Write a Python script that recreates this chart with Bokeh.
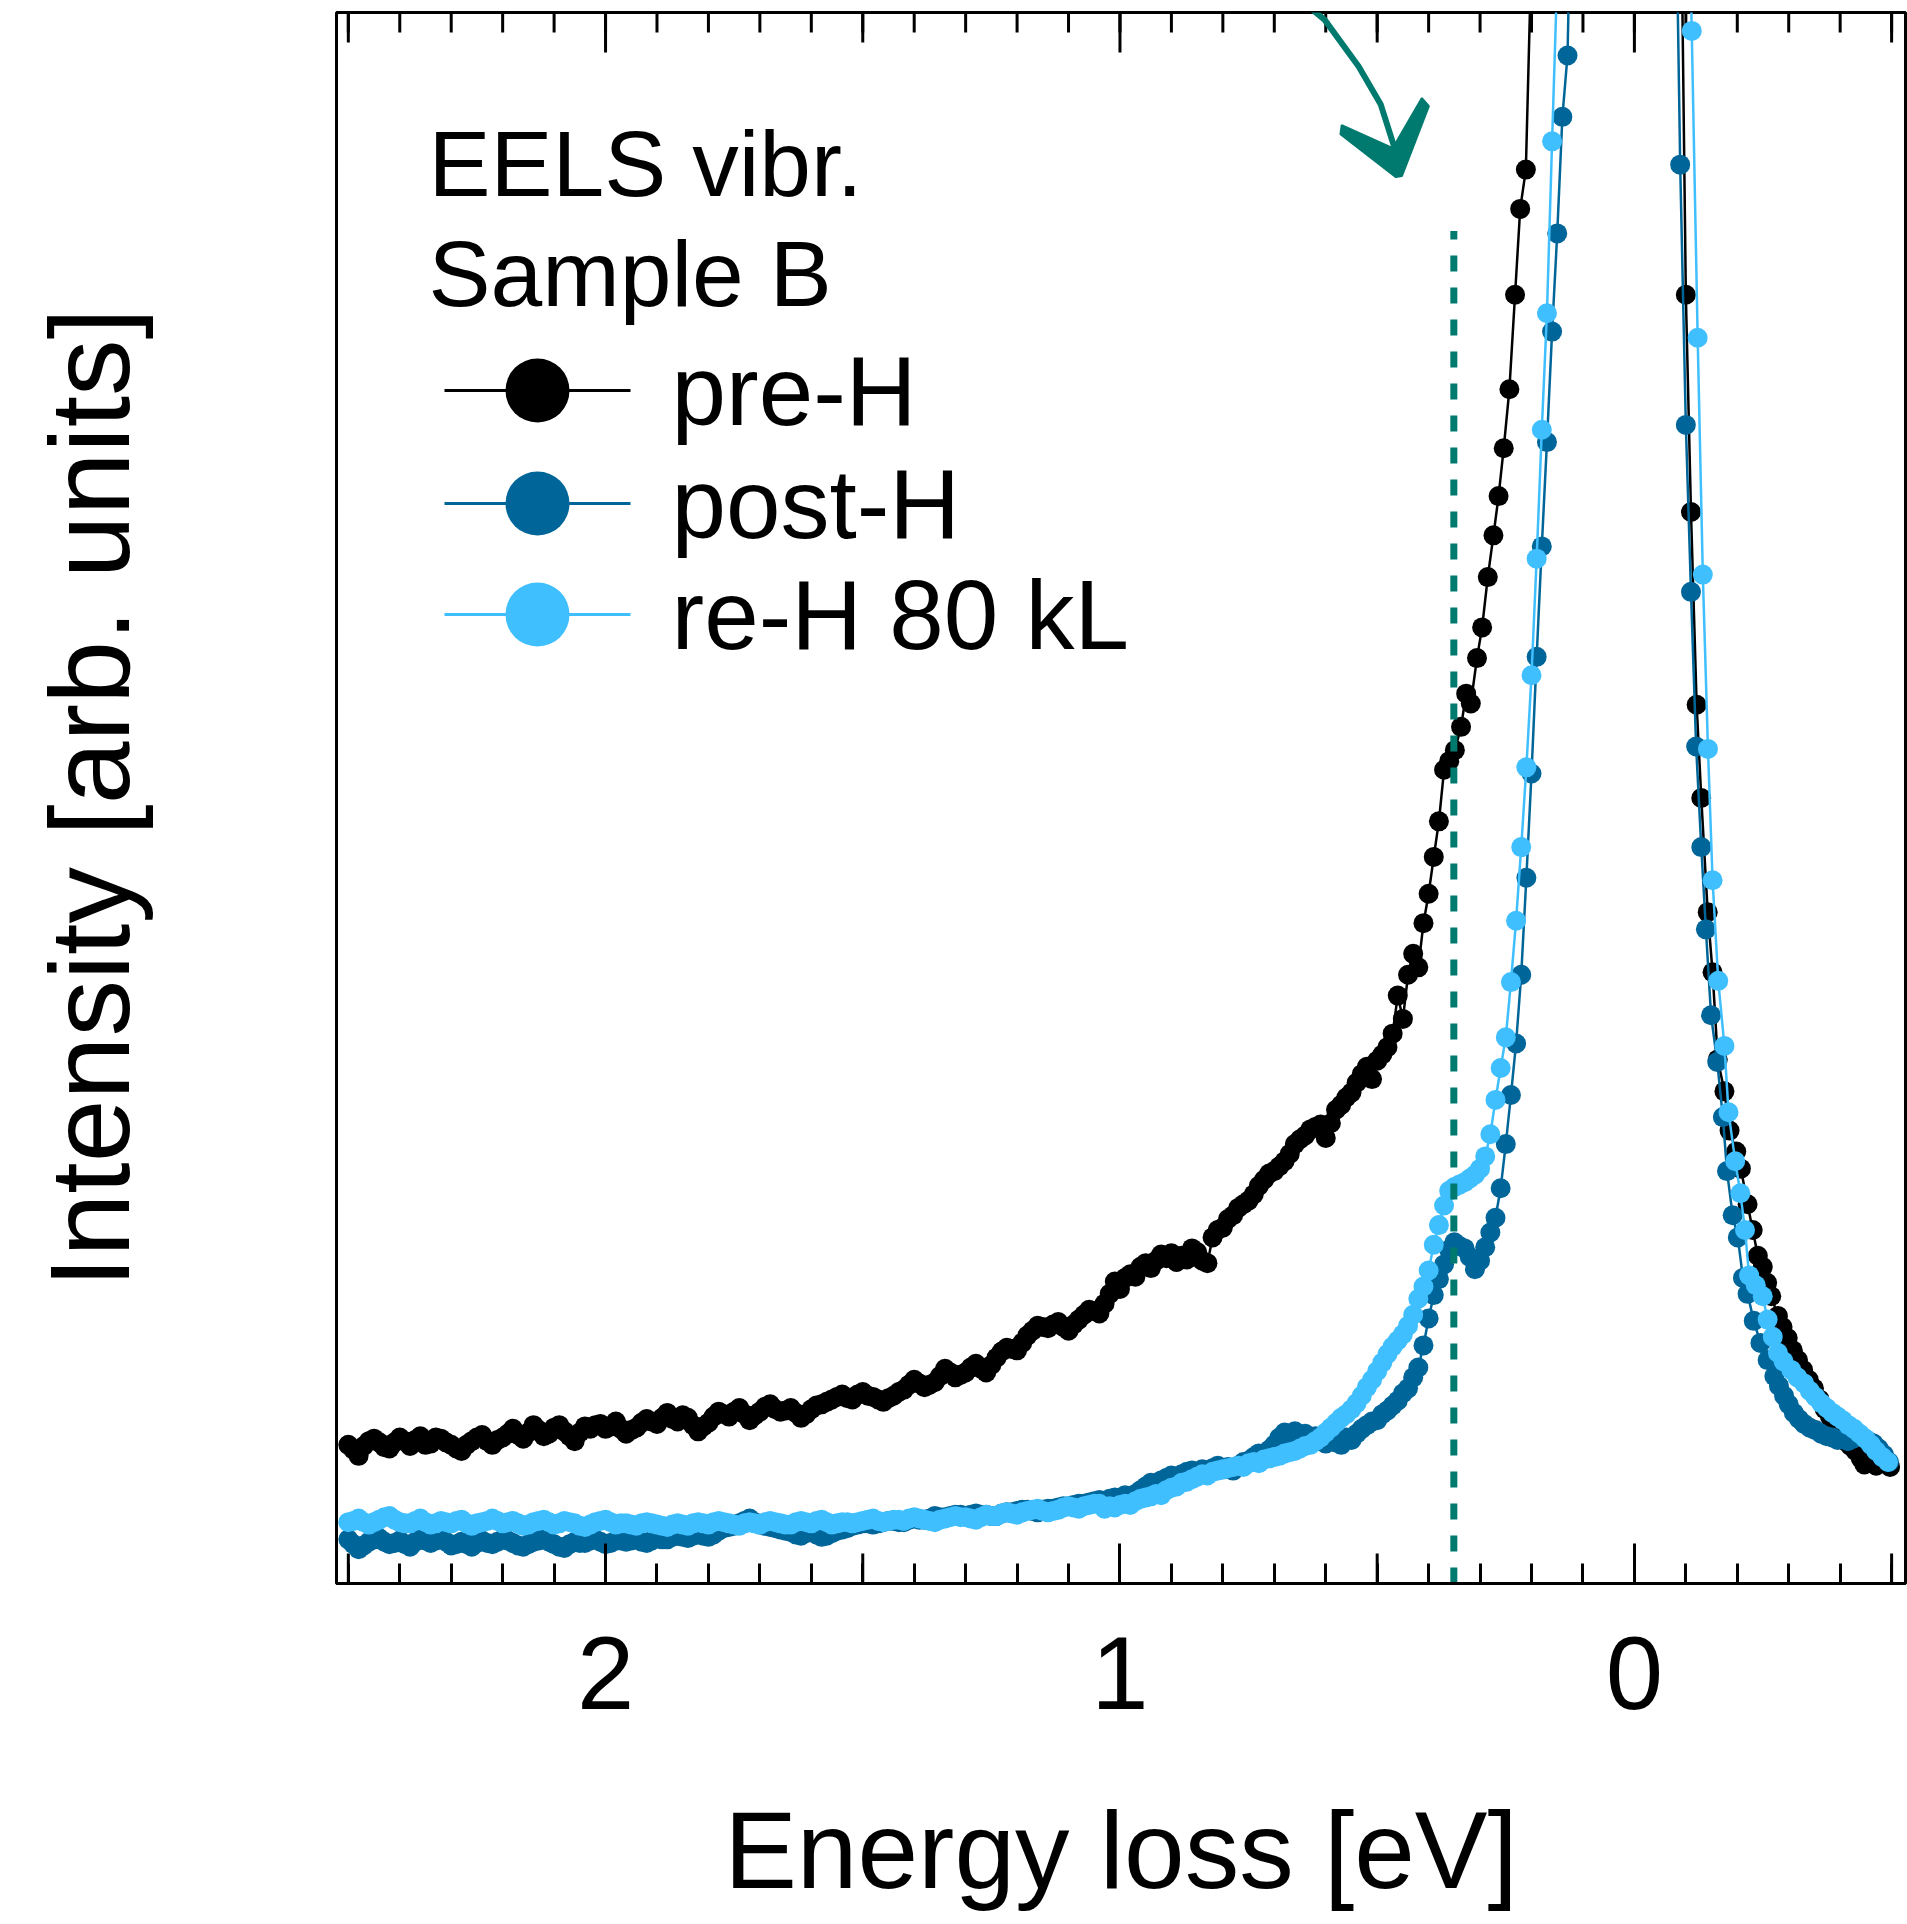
from bokeh.plotting import figure
from bokeh.models import Range1d, LinearAxis, FixedTicker, Label, Grid
from bokeh.embed import file_html
from bokeh.resources import INLINE

FONT = "Liberation Sans"

# ---------------- data ----------------
x_major_ticks = [0, 1, 2]
x_tick_labels = ["0", "1", "2"]
x_half_ticks = [-0.5, 0.5, 1.5, 2.5]
x_minor_ticks = [-0.5, -0.4, -0.3, -0.2, -0.1, 0.0, 0.1, 0.2, 0.3, 0.4, 0.5, 0.6, 0.7, 0.8,
                 0.9, 1.0, 1.1, 1.2, 1.3, 1.4, 1.5, 1.6, 1.7, 1.8, 1.9, 2.0, 2.1, 2.2, 2.3,
                 2.4, 2.5]

flat_e = [2.50, 2.48, 2.46, 2.44, 2.42, 2.40, 2.38, 2.36, 2.34, 2.32,
          2.30, 2.28, 2.26, 2.24, 2.22, 2.20, 2.18, 2.16, 2.14, 2.12,
          2.10, 2.08, 2.06, 2.04, 2.02, 2.00, 1.98, 1.96, 1.94, 1.92,
          1.90, 1.88, 1.86, 1.84, 1.82, 1.80, 1.78, 1.76, 1.74, 1.72,
          1.70, 1.68, 1.66, 1.64, 1.62, 1.60, 1.58, 1.56, 1.54, 1.52,
          1.50, 1.48, 1.46, 1.44, 1.42, 1.40, 1.38, 1.36, 1.34, 1.32,
          1.30, 1.28, 1.26, 1.24, 1.22, 1.20, 1.18, 1.16, 1.14, 1.12,
          1.10, 1.08, 1.06, 1.04]
flat_e_odd = [2.49, 2.47, 2.45, 2.43, 2.41, 2.39, 2.37, 2.35, 2.33, 2.31,
              2.29, 2.27, 2.25, 2.23, 2.21, 2.19, 2.17, 2.15, 2.13, 2.11,
              2.09, 2.07, 2.05, 2.03, 2.01, 1.99, 1.97, 1.95, 1.93, 1.91,
              1.89, 1.87, 1.85, 1.83, 1.81, 1.79, 1.77, 1.75, 1.73, 1.71,
              1.69, 1.67, 1.65, 1.63, 1.61, 1.59, 1.57, 1.55, 1.53, 1.51,
              1.49, 1.47, 1.45, 1.43, 1.41, 1.39, 1.37, 1.35, 1.33, 1.31,
              1.29, 1.27, 1.25, 1.23, 1.21, 1.19, 1.17, 1.15, 1.13, 1.11,
              1.09, 1.07, 1.05]
mid_e = [1.03, 1.02, 1.01, 1.00, 0.99, 0.98, 0.97, 0.96, 0.95, 0.94,
         0.93, 0.92, 0.91, 0.90, 0.89, 0.88, 0.87, 0.86, 0.85, 0.84,
         0.83, 0.82, 0.81, 0.80, 0.79, 0.78, 0.77, 0.76, 0.75, 0.74,
         0.73, 0.72, 0.71, 0.70, 0.69, 0.68, 0.67, 0.66, 0.65, 0.64,
         0.63, 0.62, 0.61, 0.60, 0.59, 0.58, 0.57, 0.56, 0.55, 0.54,
         0.53, 0.52, 0.51, 0.50, 0.49, 0.48, 0.47, 0.46, 0.45, 0.44,
         0.43, 0.42, 0.41, 0.40, 0.39, 0.38]

# pre-H
pre_flat = [11.3, 10.4, 11.6, 11.5, 11.0, 11.9, 11.2, 12.0, 11.4, 11.8,
            11.3, 10.8, 11.6, 12.1, 11.3, 11.9, 12.6, 11.8, 12.9, 12.0,
            12.7, 12.4, 11.6, 12.8, 12.9, 12.6, 13.2, 12.2, 12.7, 13.4,
            13.0, 13.9, 13.2, 13.5, 12.4, 13.1, 14.0, 13.6, 14.3, 13.3,
            14.0, 14.6, 14.0, 14.3, 13.5, 14.2, 14.6, 15.0, 15.4, 15.0,
            15.6, 15.2, 14.8, 15.3, 15.8, 16.6, 16.0, 16.4, 17.5, 16.8,
            17.2, 17.9, 17.2, 18.4, 19.2, 19.0, 20.2, 21.0, 20.8, 21.3,
            20.6, 21.5, 22.3, 22.0]
pre_flat_odd = [10.9, 11.2, 11.8, 11.1, 11.5, 11.6, 11.7, 11.3, 11.9, 11.5,
                11.0, 11.3, 11.9, 11.6, 11.7, 12.2, 12.1, 12.3, 12.5, 12.2,
                12.9, 12.0, 12.3, 12.6, 13.0, 12.8, 12.6, 12.5, 13.1, 13.2,
                13.5, 13.4, 13.7, 12.9, 12.8, 13.6, 13.8, 14.0, 13.8, 13.7,
                14.4, 14.2, 14.1, 13.9, 13.8, 14.5, 14.8, 15.2, 15.1, 15.4,
                15.3, 15.0, 15.1, 15.6, 16.2, 16.3, 16.2, 16.9, 17.2, 17.0,
                17.6, 17.5, 17.8, 18.9, 19.1, 19.6, 20.6, 20.9, 21.1, 20.9,
                21.1, 21.9, 22.2]
pre_mid = [22.8, 23.6, 24.6, 24.0, 24.9, 25.2, 25.0, 25.8, 26.1, 25.7,
           26.3, 26.8, 26.5, 26.9, 26.2, 26.7, 26.4, 27.3, 27.0, 26.3,
           26.1, 28.2, 28.8, 29.0, 29.7, 30.0, 30.6, 30.9, 31.2, 31.7,
           32.4, 32.9, 33.4, 33.6, 34.0, 34.4, 35.0, 35.8, 36.2, 36.5,
           37.0, 37.2, 37.4, 36.3, 37.5, 38.6, 39.0, 39.6, 40.0, 40.8,
           41.5, 42.1, 41.1, 42.6, 43.1, 43.7, 44.8, 47.9, 46.0, 49.6,
           51.3, 50.2, 53.8, 56.2, 59.2, 62.1]
pre_peak_e = [0.370, 0.360, 0.349, 0.337, 0.327, 0.318, 0.306, 0.296, 0.285, 0.274,
              0.264, 0.254, 0.243, 0.232, 0.222, 0.211, 0.201, 0.190,
              -0.090, -0.100, -0.110, -0.121, -0.130, -0.1425, -0.152, -0.162, -0.175,
              -0.185, -0.198, -0.207, -0.220, -0.230, -0.240, -0.2495, -0.258, -0.266,
              -0.279, -0.288, -0.298, -0.308, -0.318, -0.328, -0.339, -0.349, -0.360,
              -0.370, -0.380, -0.390, -0.400, -0.410, -0.420, -0.430, -0.440, -0.447,
              -0.460, -0.470, -0.486, -0.497]
pre_peak = [66.3, 67.0, 67.9, 69.8, 72.5, 71.7, 75.4, 77.9, 82.0, 85.4,
            88.6, 92.5, 97.3, 105.0, 112.0, 115.2, 131.5, 160.0,
            140.0, 105.0, 87.3, 71.6, 64.0, 54.7, 49.8, 42.7, 40.1,
            36.9, 35.2, 33.8, 30.9, 28.8, 26.7, 25.8, 24.5, 23.4,
            21.8, 20.9, 20.0, 19.0, 18.2, 17.4, 16.6, 15.9, 15.0,
            14.2, 13.6, 13.0, 12.4, 11.6, 11.2, 10.8, 10.2, 9.7,
            9.9, 9.6, 9.9, 9.5]

# post-H
post_flat = [3.6, 2.8, 3.4, 3.7, 3.2, 3.5, 3.0, 3.6, 3.3, 3.7,
             3.1, 3.4, 3.0, 3.5, 3.2, 3.6, 3.3, 3.0, 3.4, 3.7,
             3.2, 2.9, 3.4, 3.3, 3.6, 3.2, 3.5, 3.4, 3.6, 3.3,
             3.7, 3.6, 3.9, 3.7, 4.0, 3.8, 4.3, 4.6, 4.9, 5.3,
             4.8, 4.6, 4.4, 4.2, 3.9, 4.3, 3.8, 4.1, 4.4, 4.7,
             4.9, 4.8, 5.0, 5.1, 5.0, 5.3, 5.2, 5.5, 5.4, 5.6,
             5.5, 5.7, 5.6, 5.5, 5.8, 5.9, 6.0, 5.8, 6.1, 6.2,
             6.3, 6.5, 6.6, 6.8]
post_flat_odd = [3.2, 3.1, 3.6, 3.4, 3.3, 3.2, 3.4, 3.5, 3.5, 3.4,
                 3.2, 3.2, 3.3, 3.3, 3.4, 3.5, 3.1, 3.2, 3.5, 3.4,
                 3.0, 3.2, 3.3, 3.5, 3.4, 3.3, 3.5, 3.5, 3.4, 3.5,
                 3.6, 3.8, 3.8, 3.9, 3.9, 4.0, 4.5, 4.7, 5.1, 5.0,
                 4.7, 4.5, 4.3, 4.0, 4.1, 4.0, 3.9, 4.3, 4.5, 4.8,
                 4.9, 4.9, 5.1, 5.0, 5.2, 5.2, 5.3, 5.4, 5.5, 5.6,
                 5.6, 5.6, 5.5, 5.7, 5.8, 6.0, 5.9, 6.0, 6.1, 6.3,
                 6.4, 6.5, 6.7]
post_mid = [6.7, 6.9, 7.0, 6.8, 7.2, 7.0, 7.3, 7.6, 7.9, 8.2,
            8.0, 8.4, 8.6, 8.8, 8.5, 8.9, 9.1, 9.2, 9.0, 9.3,
            9.1, 9.4, 9.6, 9.3, 9.5, 9.2, 9.6, 9.9, 10.0, 10.3,
            10.6, 10.5, 10.9, 11.3, 11.9, 12.3, 12.2, 12.4, 12.0, 12.2,
            11.8, 12.0, 11.6, 11.4, 11.8, 11.5, 11.3, 11.9, 11.7, 12.2,
            12.6, 12.9, 13.2, 13.3, 13.8, 14.1, 14.5, 14.9, 15.5, 15.9,
            16.8, 17.6, 19.4, 21.6, 23.5, 24.8]
post_peak_e = [0.37, 0.36, 0.35, 0.34, 0.33, 0.32, 0.31, 0.30, 0.29, 0.28,
               0.27, 0.26, 0.25, 0.24, 0.23, 0.22, 0.21, 0.20, 0.19, 0.18,
               0.17, 0.16, 0.15, 0.14, 0.13, 0.12,
               -0.080, -0.089, -0.100, -0.110, -0.120, -0.130, -0.139, -0.149, -0.161,
               -0.172, -0.180, -0.191, -0.201, -0.211, -0.220, -0.232, -0.245, -0.259,
               -0.272, -0.281, -0.291, -0.300, -0.310, -0.320, -0.330, -0.341, -0.352,
               -0.363, -0.374, -0.385, -0.395, -0.405, -0.415, -0.425, -0.435, -0.445,
               -0.455, -0.465, -0.475, -0.485, -0.495]
post_peak = [26.0, 27.2, 27.8, 27.5, 27.3, 26.6, 25.6, 26.3, 27.4, 28.6,
             29.8, 32.2, 35.8, 39.8, 44.0, 49.6, 57.5, 66.0, 75.5, 84.5,
             93.0, 102.0, 110.0, 119.5, 124.5, 145.0,
             140.0, 115.6, 94.4, 80.8, 68.2, 60.0, 53.3, 46.3, 42.5,
             38.0, 33.6, 30.0, 28.2, 24.9, 23.6, 21.4, 19.6, 18.2,
             16.9, 16.1, 15.3, 14.6, 13.9, 13.4, 13.0, 12.7, 12.5,
             12.2, 12.0, 11.9, 11.7, 11.8, 11.6, 11.8, 12.0, 11.9,
             11.6, 11.4, 11.0, 10.5, 9.9]

# re-H 80 kL
reh_flat = [5.0, 5.3, 4.8, 5.2, 5.5, 5.0, 4.9, 5.3, 4.8, 5.1,
            4.9, 5.2, 4.7, 5.0, 5.3, 4.9, 5.1, 4.7, 5.0, 5.2,
            4.8, 5.1, 4.9, 4.6, 5.0, 5.2, 4.8, 4.9, 4.7, 5.0,
            4.8, 4.6, 4.9, 4.7, 5.0, 4.8, 5.1, 4.9, 4.7, 5.0,
            4.8, 5.1, 4.9, 4.8, 5.1, 4.9, 5.2, 4.8, 5.0, 4.9,
            5.1, 5.3, 5.0, 5.2, 5.1, 5.4, 5.2, 5.0, 5.3, 5.5,
            5.4, 5.2, 5.6, 5.5, 5.8, 5.6, 5.9, 6.1, 5.8, 6.0,
            6.3, 6.1, 6.4, 6.5]
reh_flat_odd = [5.1, 5.0, 5.0, 5.4, 5.2, 4.9, 5.1, 5.0, 4.9, 5.0,
                5.1, 4.9, 4.9, 5.1, 5.1, 5.0, 4.9, 4.8, 5.1, 5.0,
                4.9, 5.0, 4.7, 4.8, 5.1, 5.0, 4.9, 4.8, 4.9, 4.9,
                4.7, 4.8, 4.8, 4.9, 4.9, 5.0, 5.0, 4.8, 4.9, 4.9,
                5.0, 5.0, 4.8, 5.0, 5.0, 5.1, 5.0, 4.9, 5.0, 5.0,
                5.2, 5.1, 5.1, 5.2, 5.3, 5.3, 5.1, 5.2, 5.4, 5.4,
                5.3, 5.4, 5.5, 5.7, 5.7, 5.8, 6.0, 5.9, 5.9, 6.2,
                6.2, 6.3, 6.5]
reh_mid = [6.1, 6.3, 6.2, 6.4, 6.5, 6.4, 6.7, 6.9, 7.0, 7.1,
           7.3, 7.2, 7.6, 7.8, 7.9, 8.2, 8.3, 8.5, 8.7, 8.9,
           8.8, 9.1, 9.2, 9.3, 9.4, 9.5, 9.6, 9.5, 9.8, 9.9,
           9.8, 10.1, 10.2, 10.3, 10.4, 10.6, 10.7, 10.8, 11.0, 11.2,
           11.3, 11.6, 11.9, 12.3, 12.7, 13.1, 13.5, 13.8, 14.2, 14.7,
           15.3, 16.0, 16.6, 17.3, 18.0, 18.7, 19.3, 19.8, 20.3, 21.0,
           21.9, 23.2, 24.2, 25.5, 27.6, 29.2]
reh_peak_e = [0.37, 0.36, 0.35, 0.34, 0.33, 0.32, 0.31, 0.30, 0.29, 0.28,
              0.27, 0.26, 0.25, 0.24, 0.23, 0.22, 0.21, 0.20, 0.19, 0.18,
              0.17, 0.16, 0.15,
              -0.100, -0.1115, -0.123, -0.133, -0.143, -0.152, -0.163, -0.175, -0.183,
              -0.196, -0.206, -0.215, -0.223, -0.236, -0.2495, -0.259, -0.269, -0.279,
              -0.290, -0.305, -0.317, -0.330, -0.341, -0.352, -0.363, -0.374, -0.385,
              -0.395, -0.405, -0.416, -0.427, -0.438, -0.449, -0.460, -0.470, -0.482,
              -0.493]
reh_peak = [30.8, 32.0, 32.3, 32.5, 32.7, 33.0, 33.3, 33.8, 34.8, 36.6,
            39.4, 42.0, 44.5, 49.0, 54.0, 60.0, 66.5, 74.0, 83.5, 94.0,
            103.5, 117.5, 131.0,
            150.0, 126.5, 101.5, 82.2, 68.0, 57.3, 49.1, 43.8, 38.4,
            34.4, 31.8, 28.8, 25.1, 24.3, 23.4, 21.5, 20.1, 18.8,
            18.1, 17.4, 16.8, 16.3, 15.7, 15.2, 14.7, 14.3, 13.9,
            13.6, 13.3, 12.9, 12.6, 12.2, 11.8, 11.3, 10.8, 10.3,
            9.9]

series_names = ["pre-H", "post-H", "re-H 80 kL"]
series_colors = ["#000000", "#006699", "#40BFFF"]
legend_titles = ["EELS vibr.", "Sample B"]

marker_energy = 0.351      # dashed guide line position (eV)
marker_top = 110.2         # top of dashed guide line (arb. units)

arrow_shaft_e = [0.648, 0.602, 0.536, 0.493, 0.468]
arrow_shaft_i = [129.0, 127.4, 123.6, 120.5, 117.2]
arrow_head_e = [0.569, 0.4696, 0.4131, 0.3995, 0.452, 0.4636, 0.5714]
arrow_head_i = [118.83, 116.95, 121.03, 120.37, 114.67, 114.59, 118.09]


def assemble(flat_even, flat_odd, mid, peak_e, peak):
    """Merge the typed flat-region samples in energy order, then append the rest."""
    pairs = sorted(zip(flat_e + flat_e_odd, flat_even + flat_odd), reverse=True)
    e = [a for a, _ in pairs] + mid_e + peak_e
    i = [b for _, b in pairs] + mid + peak
    return e, i


pre_e, pre_i = assemble(pre_flat, pre_flat_odd, pre_mid, pre_peak_e, pre_peak)
post_e, post_i = assemble(post_flat, post_flat_odd, post_mid, post_peak_e, post_peak)
reh_e, reh_i = assemble(reh_flat, reh_flat_odd, reh_mid, reh_peak_e, reh_peak)

# ---------------- figure ----------------
W, H = 1907, 1924
ML, MR, MT, MB = 336, 2, 12, 341
FRAME_W = W - ML - MR
FRAME_H = H - MT - MB

p = figure(width=W, height=H, x_range=Range1d(2.523, -0.527), y_range=Range1d(0, 128),
           output_backend="svg", toolbar_location=None,
           x_axis_location=None, y_axis_location=None,
           min_border_left=ML, min_border_right=MR, min_border_top=MT, min_border_bottom=MB)
# pixel coordinate ranges for frame decorations (ticks on top, legend)
p.extra_x_ranges = {"px": Range1d(0, FRAME_W)}
p.extra_y_ranges = {"px": Range1d(0, FRAME_H)}
p.outline_line_color = "black"
p.outline_line_width = 3
p.background_fill_color = "white"
p.border_fill_color = "white"
for r in list(p.center):
    if isinstance(r, Grid):
        r.visible = False
        r.grid_line_color = None

xb = LinearAxis(ticker=FixedTicker(ticks=x_major_ticks, minor_ticks=x_minor_ticks),
                major_label_overrides=dict(zip(x_major_ticks, x_tick_labels)),
                axis_label="Energy loss [eV]",
                axis_label_text_font=FONT, axis_label_text_font_size="109px",
                axis_label_text_font_style="normal", axis_label_text_color="black",
                axis_label_standoff=77,
                major_label_text_font=FONT, major_label_text_font_size="103px",
                major_label_text_color="black", major_label_standoff=53,
                major_tick_in=40, major_tick_out=0, minor_tick_in=20, minor_tick_out=0,
                major_tick_line_width=3, minor_tick_line_width=3,
                major_tick_line_color="black", minor_tick_line_color="black",
                axis_line_width=3, axis_line_color="black")
p.add_layout(xb, "below")

yl = LinearAxis(ticker=FixedTicker(ticks=[]), axis_label="Intensity [arb. units]",
                axis_label_text_font=FONT, axis_label_text_font_size="113px",
                axis_label_text_font_style="normal", axis_label_text_color="black",
                axis_label_standoff=184, major_label_text_font_size="0px",
                major_label_standoff=0, major_tick_in=0, major_tick_out=0,
                minor_tick_in=0, minor_tick_out=0, axis_line_color=None)
p.add_layout(yl, "left")

# half-eV ticks (30 px) at the bottom
p.segment(x0=x_half_ticks, x1=x_half_ticks, y0=[0] * len(x_half_ticks),
          y1=[30] * len(x_half_ticks), y_range_name="px", line_color="black", line_width=3)
# mirrored ticks along the top edge
top_x = x_minor_ticks + x_half_ticks + x_major_ticks
top_len = [20] * len(x_minor_ticks) + [30] * len(x_half_ticks) + [40] * len(x_major_ticks)
p.segment(x0=top_x, x1=top_x, y0=[FRAME_H - L for L in top_len], y1=[FRAME_H] * len(top_x),
          y_range_name="px", line_color="black", line_width=3)

# data series
for color, xs, ys in zip(series_colors, [pre_e, post_e, reh_e], [pre_i, post_i, reh_i]):
    p.line(xs, ys, line_color=color, line_width=2.5)
    p.scatter(xs, ys, size=20, fill_color=color, line_color=None)

# dashed guide line
p.segment(x0=[marker_energy], x1=[marker_energy], y0=[0], y1=[marker_top],
          line_color="#007A6E", line_width=7, line_dash="16 16")

# hand-drawn style arrow
p.line(arrow_shaft_e, arrow_shaft_i, line_color="#007A6E", line_width=6, line_join="round",
       line_cap="round")
p.patch(arrow_head_e, arrow_head_i, fill_color="#007A6E", line_color="#007A6E", line_width=2)

# legend (pixel coordinates inside the frame)
leg_y = [1193, 1080, 969]
p.segment(x0=[108] * 3, x1=[294] * 3, y0=leg_y, y1=leg_y, line_color=series_colors,
          line_width=3, x_range_name="px", y_range_name="px")
p.scatter(x=[201] * 3, y=leg_y, size=64, fill_color=series_colors, line_color=None,
          x_range_name="px", y_range_name="px")
for name, yv in zip(series_names, leg_y):
    p.add_layout(Label(x=335, y=yv, text=name, x_range_name="px", y_range_name="px",
                       text_font=FONT, text_font_size="98px", text_baseline="middle",
                       text_align="left", text_color="black"))
for txt, yv in zip(legend_titles, [1420, 1310]):
    p.add_layout(Label(x=92, y=yv, text=txt, x_range_name="px", y_range_name="px",
                       text_font=FONT, text_font_size="93px", text_baseline="middle",
                       text_align="left", text_color="black"))

open("out.html", "w").write(file_html(p, INLINE))
